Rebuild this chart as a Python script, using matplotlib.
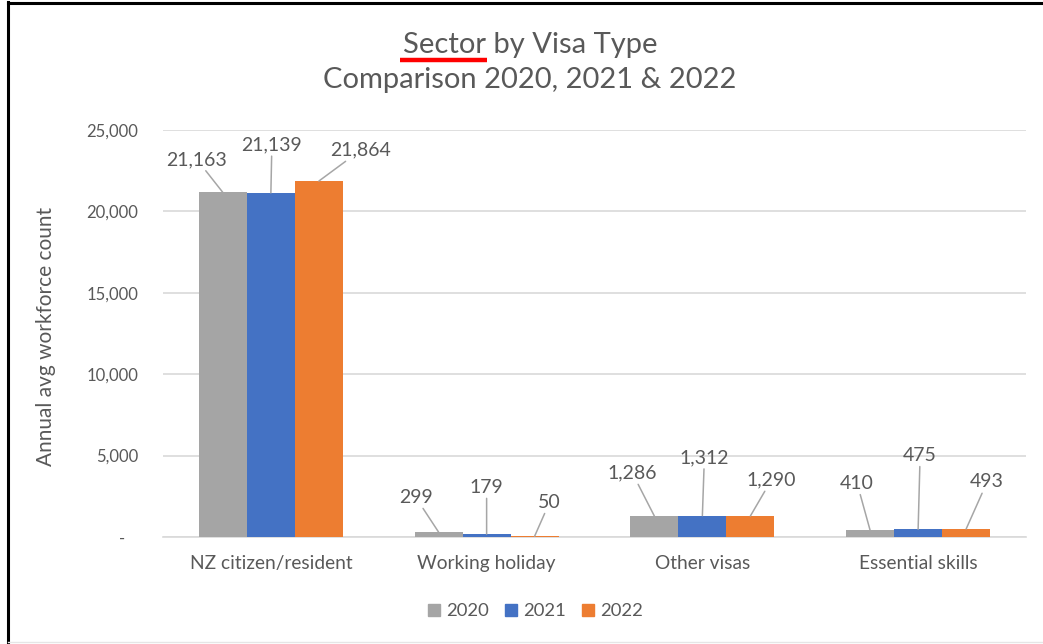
import matplotlib
matplotlib.use("Agg")
import matplotlib.pyplot as plt
from matplotlib.lines import Line2D
import numpy as np

# ---- data -------------------------------------------------------------
categories = ["NZ citizen/resident", "Working holiday", "Other visas", "Essential skills"]
years = ["2020", "2021", "2022"]
values_2020 = [21163, 299, 1286, 410]
values_2021 = [21139, 179, 1312, 475]
values_2022 = [21864, 50, 1290, 493]
y_ticks = [0, 5000, 10000, 15000, 20000, 25000]
y_tick_labels = ["-   ", "5,000", "10,000", "15,000", "20,000", "25,000"]

series = [values_2020, values_2021, values_2022]

# ---- style ------------------------------------------------------------
colors = ["#A5A5A5", "#4472C4", "#ED7D31"]
text_color = "#595959"
grid_color = "#D9D9D9"
leader_color = "#A6A6A6"

plt.rcParams["font.family"] = ["Lato", "DejaVu Sans"]

# label placement (pixels from the top of each bar), per series / category
label_offsets = [
    [(-26, 33), (-23, 35), (-22, 43), (-13, 47)],
    [(1, 48), (0, 47), (2, 58), (2, 74)],
    [(42, 31), (15, 34), (21, 36), (21, 47)],
]

W, H = 1043, 644
fig = plt.figure(figsize=(W / 100, H / 100), dpi=100)
ax = fig.add_axes([163 / W, 1 - 537 / H, (1026 - 163) / W, (537 - 130) / H])

x = np.arange(len(categories))
bar_w = 0.2225
for i, (vals, col, yr) in enumerate(zip(series, colors, years)):
    pos = x + (i - 1) * bar_w
    ax.bar(pos, vals, width=bar_w, color=col, label=yr, zorder=3)
    for j, (px, v) in enumerate(zip(pos, vals)):
        dx, dy = label_offsets[i][j]
        ax.annotate(f"{v:,}", xy=(px, v), xytext=(dx, dy),
                    textcoords="offset pixels", ha="center", va="center",
                    fontsize=14, color=text_color, zorder=4,
                    arrowprops=dict(arrowstyle="-", color=leader_color,
                                    lw=1.1, shrinkA=0, shrinkB=0))

ax.set_xlim(-0.5, len(categories) - 0.5)
ax.set_ylim(0, 25000)
ax.set_yticks(y_ticks)
ax.set_yticklabels(y_tick_labels)
ax.set_xticks(x)
ax.set_xticklabels(categories)
ax.tick_params(axis="both", length=0, labelcolor=text_color)
ax.tick_params(axis="y", pad=18, labelsize=12)
ax.tick_params(axis="x", pad=13, labelsize=13.8)
ax.yaxis.grid(True, color=grid_color, lw=1.2, zorder=0)
ax.set_axisbelow(True)
for s in ["top", "right", "left"]:
    ax.spines[s].set_visible(False)
ax.spines["bottom"].set_color(grid_color)
ax.spines["bottom"].set_linewidth(1.2)

fig.text(46 / W, 1 - 336 / H, "Annual avg workforce count", rotation=90,
         ha="center", va="center", fontsize=15, color=text_color)

# ---- title with red underline beneath the first word ----------------------
title_x = 530 / W
title_size = 21
t1 = fig.text(title_x, 1 - 45 / H, "Sector by Visa Type", ha="center",
              va="center", fontsize=title_size, color=text_color)
fig.text(title_x, 1 - 80 / H, "Comparison 2020, 2021 & 2022", ha="center",
         va="center", fontsize=title_size, color=text_color)

fig.canvas.draw()
renderer = fig.canvas.get_renderer()
bb = t1.get_window_extent(renderer)
tmp = fig.text(0, 0, "Sector", fontsize=title_size)
wd = tmp.get_window_extent(renderer).width
tmp.remove()
x0 = (bb.x0 - 3) / W
x1 = (bb.x0 + wd + 1) / W
yl = 1 - 60 / H
fig.add_artist(Line2D([x0, x1], [yl, yl], color="#FF0000", lw=3.2,
                      transform=fig.transFigure, solid_capstyle="butt"))

# ---- legend -----------------------------------------------------------
handles = [Line2D([], [], marker="s", linestyle="", markersize=8, color=c)
           for c in colors]
fig.legend(handles, years, loc="center", bbox_to_anchor=(535 / W, 1 - 611 / H),
           ncol=3, frameon=False, fontsize=13.3, labelcolor=text_color,
           handletextpad=0.25, columnspacing=0.85, handlelength=0.75)

# ---- chart frame ----------------------------------------------------------
fig.add_artist(Line2D([7.5 / W, 1], [1 - 2.5 / H, 1 - 2.5 / H], color="black",
                      lw=2.2, transform=fig.transFigure))
fig.add_artist(Line2D([7.5 / W, 7.5 / W], [0, 1 - 1.5 / H], color="black",
                      lw=2.2, transform=fig.transFigure))
fig.add_artist(Line2D([8 / W, 1], [1 - 642 / H, 1 - 642 / H], color="#E6E6E6",
                      lw=1.0, transform=fig.transFigure))

fig.savefig("out.png", dpi=100)
